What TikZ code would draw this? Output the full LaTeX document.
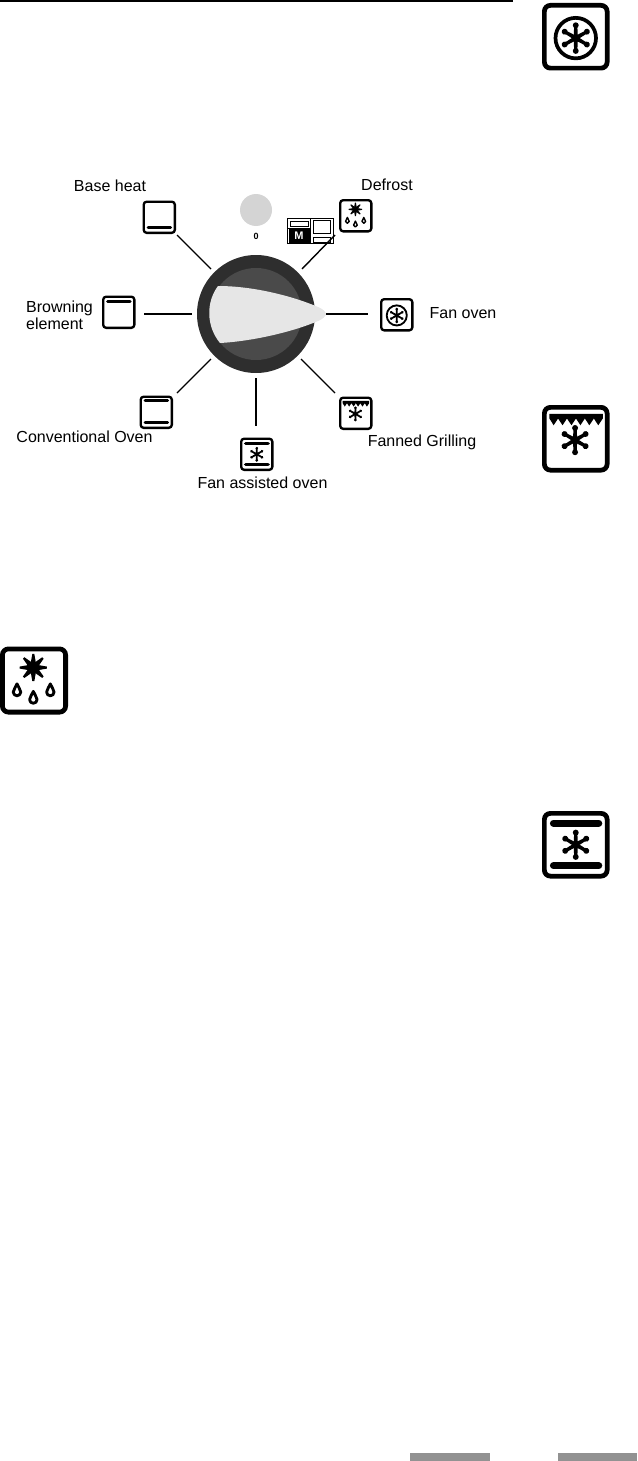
\documentclass[tikz,border=0pt]{standalone}
\usepackage{fontspec}
\setmainfont{Liberation Sans}
\definecolor{knobrim}{HTML}{2E2E2E}
\definecolor{knobin}{HTML}{4A4A4A}
\definecolor{pointer}{HTML}{E6E6E6}
\definecolor{zerodot}{HTML}{D4D4D4}
\definecolor{barg}{HTML}{929292}
\tikzset{
  lab/.style={inner sep=0,font=\fontsize{16}{18}\selectfont,anchor=base},
  labl/.style={lab,anchor=base west},
  conn/.style={line width=1.4pt,black},
  ul/.style={line width=#1*\iu pt},
  frame/.style={draw,inner sep=0,outer sep=0,line width=7*\iu pt,minimum size=93*\iu pt,rounded corners=9*\iu pt}
}
\newcommand{\ovenicon}[5]{%
  \begin{scope}[shift={(#2,#3)},x=#4pt,y=-#4pt]
    \def\iu{#4}
    \node[frame] (#1) at (50,50) {};
    #5
  \end{scope}}
\newcommand{\fstar}[3]{% cx cy R
  \foreach \a in {90,150,210,270,330,30}{
    \begin{scope}[shift={(#1,#2)},rotate=\a]
      \fill (0,-3.2) -- (#3,-2.2) -- (#3,2.2) -- (0,3.2) -- cycle;
      \fill (#3-2,0) circle (4.4);
    \end{scope}}}
\newcommand{\istar}[3]{% cx cy R
  \foreach \a in {0,45,...,315}{
    \begin{scope}[shift={(#1,#2)},rotate=\a]
      \fill (0,-5) -- (#3,-1.5) -- (#3,1.5) -- (0,5) -- cycle;
    \end{scope}}}
\newcommand{\idrop}[2]{%
  \draw[ul=4.2,fill=white,line join=round] (#1,#2-9) .. controls (#1+1,#2-4) and (#1+5.5,#2-2) .. (#1+5.5,#2+3)
    arc[start angle=0,end angle=180,radius=5.5] .. controls (#1-5.5,#2-2) and (#1-1,#2-4) .. cycle;}
\newcommand{\izig}{%
  \fill (11,13) -- (90,13) -- (90,20) -- (83.4,30) -- (76.8,20) -- (70.1,30) -- (63.5,20) -- (56.9,30)
    -- (50.3,20) -- (43.7,30) -- (37,20) -- (30.4,30) -- (23.8,20) -- (17.2,30) -- (11,20) -- cycle;}
\newcommand{\ifanw}{%
  \draw[ul=5.5] (50,52) circle (30);
  \fstar{50}{52}{21}}
\newcommand{\ifrost}{%
  \istar{49}{31}{20}
  \idrop{25}{64}\idrop{49}{75}\idrop{74}{64}}
\newcommand{\ibars}{%
  \draw[ul=10.5,line cap=round] (17,18) -- (84,18);
  \draw[ul=10.5,line cap=round] (17,81) -- (84,81);
  \fstar{50}{50}{20}}
\begin{document}
\begin{tikzpicture}[x=1pt,y=-1pt]
\useasboundingbox (0,0) rectangle (637,1461);
\fill (0,0) rectangle (513,2);
% knob
\fill[knobrim] (256,314) circle (59);
\fill[knobin] (256,314) circle (46);
\fill[pointer] (218,286) .. controls (255,286) and (295,297) .. (318,307)
  .. controls (323,309) and (326,312) .. (326,314)
  .. controls (326,316) and (323,319) .. (318,321)
  .. controls (295,331) and (255,341) .. (220,343)
  .. controls (206,326) and (206,302) .. (218,286) -- cycle;
\fill[zerodot] (256,210) circle (16);
\node[inner sep=0,font=\bfseries\fontsize{9}{10}\selectfont] (zero) at (256,236) {0};
% M panel
\draw[line width=1pt] (287.5,218.5) rectangle (333,243);
\draw[line width=1pt] (310,218.5) -- (310,243);
\draw[line width=1pt] (290,221) rectangle (308,226);
\draw[line width=1pt] (287.5,228) -- (310,228);
\node[fill=black,text=white,inner sep=0,minimum width=21pt,minimum height=14pt,font=\bfseries\fontsize{11}{12}\selectfont] (mbox) at (299,236) {M};
\draw[line width=1pt] (313,220.5) rectangle (330,233);
\draw[line width=1pt] (313.5,237) rectangle (330,242);
% small icons
\ovenicon{baseheat}{142.5}{200.5}{.335}{\draw[ul=9.5,line cap=round] (17,81) -- (84,81);}
\ovenicon{brown}{102}{295.5}{.335}{\draw[ul=9.5,line cap=round] (17,17) -- (84,17);}
\ovenicon{conv}{139.5}{395.5}{.335}{\draw[ul=9.5,line cap=round] (17,16) -- (84,16);\draw[ul=9.5,line cap=round] (17,81) -- (84,81);}
\ovenicon{fanass}{240}{437.5}{.335}{\ibars}
\ovenicon{fangrill}{339}{396.5}{.335}{\izig\fstar{49}{52}{20}}
\ovenicon{fanoven}{380}{298}{.335}{\ifanw}
\ovenicon{defrost}{339}{199}{.335}{\ifrost}
% large icons
\ovenicon{bigfan}{542}{3}{.675}{\ifanw}
\ovenicon{biggrill}{542}{405}{.675}{\izig\fstar{49}{52}{20}}
\ovenicon{bigdefrost}{0}{646.5}{.68}{\ifrost}
\ovenicon{bigass}{542}{811}{.675}{\ibars}
% connector ends
\coordinate (a1) at (177,235); \coordinate (a2) at (211,269);
\coordinate (b1) at (144,314); \coordinate (b2) at (192,314);
\coordinate (c1) at (177,393); \coordinate (c2) at (211,359);
\coordinate (d1) at (256,378); \coordinate (d2) at (256,426);
\coordinate (e1) at (301,359); \coordinate (e2) at (335,393);
\coordinate (f1) at (326,314); \coordinate (f2) at (368,314);
\coordinate (g1) at (302,269); \coordinate (g2) at (335,235);
\draw[conn] (a1) -- (a2);
\draw[conn] (b1) -- (b2);
\draw[conn] (c1) -- (c2);
\draw[conn] (d1) -- (d2);
\draw[conn] (e1) -- (e2);
\draw[conn] (f1) -- (f2);
\draw[conn] (g1) -- (g2);
% labels
\node[lab] (tbase) at (110,191) {Base heat};
\node[labl] (tbrown) at (26,312) {Browning};
\node[labl] (telem) at (26,329) {element};
\node[lab] (tconv) at (84.5,442) {Conventional Oven};
\node[lab] (tass) at (262.5,488) {Fan assisted oven};
\node[lab] (tgrill) at (422,446) {Fanned Grilling};
\node[lab] (tfan) at (463,318) {Fan oven};
\node[lab] (tdef) at (387,190) {Defrost};
% bottom bars
\fill[barg] (410,1453) rectangle (490,1461);
\fill[barg] (558,1453) rectangle (637,1461);
\end{tikzpicture}
\end{document}
